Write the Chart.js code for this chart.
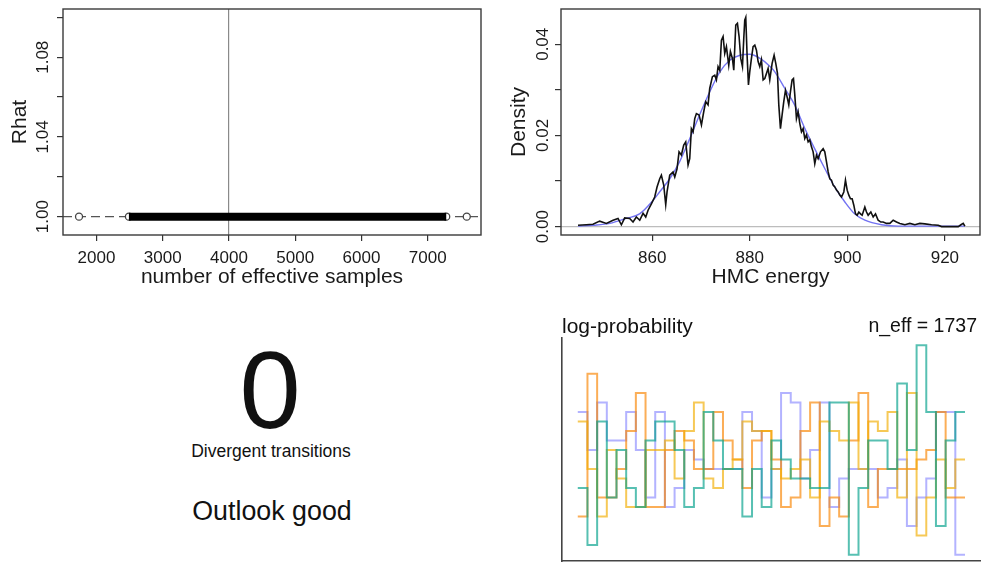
<!DOCTYPE html>
<html>
<head>
<meta charset="utf-8">
<title>Sampler dashboard</title>
<script src="https://cdn.jsdelivr.net/npm/chart.js@4.4.1/dist/chart.umd.min.js"></script>
<style>
  html, body { margin: 0; padding: 0; background: #fff; }
  #wrap { position: relative; width: 983px; height: 563px; overflow: hidden;
          font-family: "Liberation Sans", Arial, sans-serif; color: #111; }
  canvas { position: absolute; }
  .txt { position: absolute; white-space: nowrap; }
  #bigZero { left: 170px; width: 200px; top: 335px; text-align: center; font-size: 110px; line-height: 110px; }
  #divLabel { left: 120px; width: 302px; top: 443px; text-align: center; font-size: 17.5px; line-height: 17.5px; }
  #outlook { left: 120px; width: 304px; top: 498px; text-align: center; font-size: 26.8px; line-height: 26.8px; }
  #lpTitle { left: 562px; top: 315px; font-size: 21px; line-height: 21px; }
  #neffTitle { right: 6px; top: 316px; font-size: 19.5px; line-height: 19.5px; }
</style>
</head>
<body>
<div id="wrap">
  <canvas id="cRhat" width="490" height="300" style="left:0;top:0"></canvas>
  <canvas id="cEnergy" width="493" height="300" style="left:490px;top:0"></canvas>
  <canvas id="cTrank" width="433" height="253" style="left:550px;top:310px"></canvas>
  <div class="txt" id="bigZero">0</div>
  <div class="txt" id="divLabel">Divergent transitions</div>
  <div class="txt" id="outlook">Outlook good</div>
  <div class="txt" id="lpTitle">log-probability</div>
  <div class="txt" id="neffTitle">n_eff = 1737</div>
</div>
<script>
// ---------- n_eff vs Rhat ----------
const nEffPoints = [1737, 2490, 7280, 7590];   // isolated parameters and ends of the dense run
const nEffBand = [2490, 7280];                 // dense run of parameters, all at Rhat = 1
const rhatValue = 1.0;
const totalSamples = 4000;
const nEffTicks = [2000, 3000, 4000, 5000, 6000, 7000];
const rhatTickLabels = ['1.00', '1.04', '1.08'];

// ---------- HMC energy density ----------
const energyX = [
  844.79, 846.50, 847.86, 849.23, 850.60, 851.97, 852.99, 853.68, 854.36, 855.38,
  856.07, 856.75, 857.44, 858.12, 858.67, 859.15, 859.83, 860.51, 860.99, 861.54,
  861.88, 862.36, 862.77, 863.04, 863.59, 864.27, 864.62, 865.09, 865.50, 865.98,
  866.46, 866.87, 867.35, 867.69, 868.03, 868.38, 868.72, 869.06, 869.61, 870.09,
  870.56, 870.97, 871.45, 871.79, 872.34, 872.82, 873.16, 873.50, 873.85, 874.19,
  874.53, 874.87, 875.21, 875.69, 876.03, 876.44, 876.72, 877.13, 877.47, 877.81,
  878.15, 878.50, 878.77, 878.97, 879.18, 879.45, 879.73, 880.00, 880.34, 880.68,
  881.03, 881.37, 881.71, 882.05, 882.39, 882.74, 883.08, 883.76, 884.10, 884.58,
  884.99, 885.33, 885.68, 885.95, 886.29, 886.63, 886.97, 887.32, 887.73, 888.00,
  888.34, 888.68, 888.96, 889.23, 889.57, 889.91, 890.26, 890.60, 890.94, 891.28,
  891.62, 891.97, 892.31, 892.65, 892.99, 893.33, 893.68, 894.02, 894.50, 895.04,
  895.38, 895.73, 896.07, 896.41, 896.75, 897.09, 897.44, 897.78, 898.12, 898.46,
  898.80, 899.28, 899.62, 899.97, 900.31, 900.65, 900.99, 901.33, 901.68, 902.02,
  902.36, 902.70, 903.04, 903.59, 903.93, 904.27, 904.82, 905.30, 905.78, 906.32,
  906.87, 907.35, 908.03, 908.72, 909.40, 910.09, 910.77, 911.80, 912.82, 913.85,
  914.87, 915.90, 917.26, 918.63, 919.32, 922.74, 923.29, 923.76, 924.10
];
const energyDensity = [
  0.0003, 0.0004, 0.0005, 0.0012, 0.0007, 0.0014, 0.0018, 0.0004, 0.0019, 0.0018,
  0.0010, 0.0021, 0.0014, 0.0029, 0.0021, 0.0036, 0.0050, 0.0065, 0.0087, 0.0105,
  0.0113, 0.0091, 0.0048, 0.0076, 0.0113, 0.0120, 0.0109, 0.0127, 0.0164, 0.0157,
  0.0179, 0.0186, 0.0135, 0.0149, 0.0215, 0.0208, 0.0237, 0.0248, 0.0245, 0.0223,
  0.0252, 0.0274, 0.0267, 0.0303, 0.0329, 0.0332, 0.0322, 0.0351, 0.0343, 0.0409,
  0.0417, 0.0380, 0.0395, 0.0354, 0.0384, 0.0369, 0.0343, 0.0442, 0.0446, 0.0417,
  0.0369, 0.0351, 0.0413, 0.0453, 0.0459, 0.0376, 0.0311, 0.0340, 0.0369, 0.0395,
  0.0398, 0.0387, 0.0362, 0.0351, 0.0366, 0.0322, 0.0325, 0.0347, 0.0322, 0.0358,
  0.0376, 0.0358, 0.0336, 0.0267, 0.0215, 0.0245, 0.0274, 0.0299, 0.0281, 0.0267,
  0.0296, 0.0322, 0.0325, 0.0289, 0.0237, 0.0252, 0.0226, 0.0208, 0.0215, 0.0193,
  0.0201, 0.0186, 0.0190, 0.0175, 0.0164, 0.0138, 0.0157, 0.0149, 0.0164, 0.0171,
  0.0164, 0.0142, 0.0120, 0.0105, 0.0102, 0.0091, 0.0087, 0.0080, 0.0076, 0.0069,
  0.0065, 0.0076, 0.0102, 0.0080, 0.0069, 0.0061, 0.0061, 0.0047, 0.0028, 0.0025,
  0.0032, 0.0028, 0.0025, 0.0043, 0.0032, 0.0025, 0.0032, 0.0021, 0.0028, 0.0014,
  0.0010, 0.0010, 0.0007, 0.0007, 0.0014, 0.0010, 0.0007, 0.0004, 0.0007, 0.0004,
  0.0007, 0.0006, 0.0004, 0.0003, 0.0000, 0.0000, 0.0004, 0.0007, 0.0001
];
// smooth normal reference curve
const normalX = [844.8, 847.9, 851.3, 854.7, 857.4, 860.2, 861.5, 863.6, 865.6, 867.7,
                 869.7, 871.8, 873.9, 875.9, 878.0, 880.0, 882.1, 884.1, 885.1, 887.2,
                 889.2, 891.3, 893.3, 895.4, 897.4, 899.5, 901.5, 903.6, 907.0, 910.4, 924.1];
const normalDensity = [0.0001, 0.0003, 0.0007, 0.0018, 0.0028, 0.0058, 0.0076, 0.0105, 0.0142, 0.0193,
                       0.0245, 0.0296, 0.0340, 0.0365, 0.0376, 0.0378, 0.0369, 0.0352, 0.0340, 0.0303,
                       0.0267, 0.0215, 0.0171, 0.0127, 0.0087, 0.0054, 0.0028, 0.0014, 0.0004, 0.0001, 0.0001];
const energyTicks = [860, 880, 900, 920];
const densityTickLabels = ['0.00', '0.02', '0.04'];

// ---------- trace rank histogram of log-probability (4 chains, 40 rank bins) ----------
const chainBlue   = [15, 11, 16, 12, 12, 15, 11,  6, 15,  5,  7, 11, 10,  9,  9,  9,  9, 15, 13,  6,
                      9, 17, 16,  8, 11, 16,  5,  8,  9,  9,  9,  6,  7, 10,  3,  6,  8, 15, 15,  0];
const chainOrange = [ 4, 19,  6,  6,  9, 13, 17,  5,  5, 11, 13, 12,  9,  9, 15, 12, 10,  7, 12, 13,
                     10,  5,  6, 13, 16,  3,  6,  4, 12, 17,  5,  9,  9,  9,  9, 10, 11, 15,  6,  6];
const chainYellow = [14,  9,  4, 11,  8,  5,  5, 11, 11, 12,  8, 13, 16,  8,  7,  9, 10, 14, 13, 13,
                      9,  8,  9, 10,  6, 14, 13, 12, 16,  9, 14, 13, 15,  6, 17,  2,  6, 10,  7, 10];
const chainTeal   = [ 7,  1, 14,  6, 11,  7,  5, 12, 14, 14, 11,  5,  7, 15, 12,  9,  9,  4,  9,  5,
                     12, 10,  8,  8,  7,  7, 16, 16,  0,  7, 12, 12,  9, 18, 11, 22, 15,  3, 12, 15];

Chart.defaults.font.family = '"Liberation Sans", Arial, sans-serif';
Chart.defaults.color = '#1a1a1a';

// frame drawn round the plotting region
const framePlugin = {
  id: 'frame',
  afterDatasetsDraw(chart) {
    const a = chart.chartArea, c = chart.ctx;
    c.save();
    c.strokeStyle = '#3a3a3a';
    c.lineWidth = 1.4;
    c.strokeRect(a.left, a.top, a.right - a.left, a.bottom - a.top);
    c.restore();
  }
};

const near = (a, b) => Math.abs(a - b) < 1e-9;
const fixedTicks = values => s => { s.ticks = values.map(v => ({ value: v })); };
const baseOpts = {
  responsive: false, animation: false, events: [],
  plugins: { legend: { display: false }, tooltip: { enabled: false } }
};
const tickGrid = { drawTicks: true, tickLength: 6, tickColor: '#333', tickWidth: 1.2, lineWidth: 1.2 };

// ---------- panel 1: Rhat against number of effective samples ----------
new Chart(document.getElementById('cRhat'), {
  type: 'scatter',
  data: {
    datasets: [
      { type: 'line', data: nEffBand.map(v => ({ x: v, y: rhatValue })), borderColor: '#000',
        borderWidth: 8, borderCapStyle: 'butt', pointRadius: 0, order: 0 },
      { data: nEffPoints.map(v => ({ x: v, y: rhatValue })), pointRadius: 3.5,
        pointBorderColor: '#444', pointBackgroundColor: '#fff', pointBorderWidth: 1.3, order: 1 }
    ]
  },
  options: Object.assign({}, baseOpts, {
    layout: { padding: { top: 9, left: 0, right: 9, bottom: 0 } },
    scales: {
      x: {
        type: 'linear', min: 1495, max: 7805,
        afterBuildTicks: fixedTicks(nEffTicks),
        afterFit: s => { s.height = 65; },
        ticks: { font: { size: 17 }, padding: 7, maxRotation: 0, autoSkip: false, callback: v => String(v) },
        grid: Object.assign({}, tickGrid, {
          color: c => (c.tick && near(c.tick.value, totalSamples)) ? '#8a8a8a' : 'rgba(0,0,0,0)' }),
        border: { display: false },
        title: { display: true, text: 'number of effective samples', font: { size: 21 }, padding: { top: 0, bottom: 10 } }
      },
      y: {
        min: 0.9908, max: 1.1042,
        afterFit: s => { s.width = 63; },
        ticks: { stepSize: 0.02, includeBounds: false, minRotation: 90, maxRotation: 90, crossAlign: 'center',
                 padding: -3, autoSkip: false, font: { size: 17 },
                 callback: v => rhatTickLabels.includes(v.toFixed(2)) ? v.toFixed(2) : '' },
        grid: Object.assign({}, tickGrid, {
          color: c => (c.tick && near(c.tick.value, rhatValue)) ? '#555' : 'rgba(0,0,0,0)' }),
        border: { display: false, dash: c => (c.tick && near(c.tick.value, rhatValue)) ? [9, 5] : [] },
        title: { display: true, text: 'Rhat', font: { size: 21 }, padding: { top: 8, bottom: 0 } }
      }
    }
  }),
  plugins: [framePlugin]
});

// ---------- panel 2: HMC energy density ----------
new Chart(document.getElementById('cEnergy'), {
  type: 'line',
  data: {
    datasets: [
      { data: energyX.map((x, i) => ({ x, y: energyDensity[i] })), borderColor: '#111',
        borderWidth: 1.6, pointRadius: 0, tension: 0, order: 0 },
      { data: normalX.map((x, i) => ({ x, y: normalDensity[i] })), borderColor: '#7272f2',
        borderWidth: 1.4, pointRadius: 0, cubicInterpolationMode: 'monotone', order: 1 }
    ]
  },
  options: Object.assign({}, baseOpts, {
    layout: { padding: { top: 9, left: 0, right: 3, bottom: 0 } },
    scales: {
      x: {
        type: 'linear', min: 841.3, max: 927.2,
        afterBuildTicks: fixedTicks(energyTicks),
        afterFit: s => { s.height = 65; },
        ticks: { font: { size: 17 }, padding: 7, maxRotation: 0, autoSkip: false, callback: v => String(v) },
        grid: Object.assign({}, tickGrid, { drawOnChartArea: false }),
        border: { display: false },
        title: { display: true, text: 'HMC energy', font: { size: 21 }, padding: { top: 0, bottom: 10 } }
      },
      y: {
        min: -0.00184, max: 0.04774,
        afterFit: s => { s.width = 71; },
        ticks: { stepSize: 0.01, includeBounds: false, minRotation: 90, maxRotation: 90, crossAlign: 'center',
                 padding: -5, autoSkip: false, font: { size: 17 },
                 callback: v => densityTickLabels.includes(v.toFixed(2)) ? v.toFixed(2) : '' },
        grid: Object.assign({}, tickGrid, {
          color: c => (c.tick && near(c.tick.value, 0)) ? '#bdbdbd' : 'rgba(0,0,0,0)' }),
        border: { display: false },
        title: { display: true, text: 'Density', font: { size: 21 }, padding: { top: 17, bottom: 0 } }
      }
    }
  }),
  plugins: [framePlugin]
});

// ---------- panel 4: trace rank plot ----------
const rankBins = chainBlue.map((_, i) => i);
function stepData(counts) {
  const pts = rankBins.map(i => ({ x: i, y: counts[i] }));
  pts.push({ x: counts.length, y: counts[counts.length - 1] }); // right edge of the last bin
  return pts;
}
const chains = [
  { counts: chainTeal,   color: 'rgba(0,160,138,0.66)' },
  { counts: chainYellow, color: 'rgba(242,173,0,0.66)' },
  { counts: chainOrange, color: 'rgba(249,132,0,0.66)' },
  { counts: chainBlue,   color: 'rgba(128,128,255,0.6)' }
];
new Chart(document.getElementById('cTrank'), {
  type: 'line',
  data: {
    datasets: chains.map(ch => ({
      data: stepData(ch.counts), borderColor: ch.color, borderWidth: 2,
      pointRadius: 0, stepped: 'before', tension: 0
    }))
  },
  options: Object.assign({}, baseOpts, {
    layout: { padding: { top: 28, left: 12, right: 3, bottom: 2 } },
    scales: {
      x: { type: 'linear', min: -1.63, max: 41.55, afterFit: s => { s.height = 0; },
           ticks: { display: false }, grid: { display: false },
           border: { display: true, color: '#444', width: 1.6 } },
      y: { min: -0.67, max: 22.77, afterFit: s => { s.width = 0; },
           ticks: { display: false }, grid: { display: false },
           border: { display: true, color: '#444', width: 1.6 } }
    }
  })
});
</script>
</body>
</html>
